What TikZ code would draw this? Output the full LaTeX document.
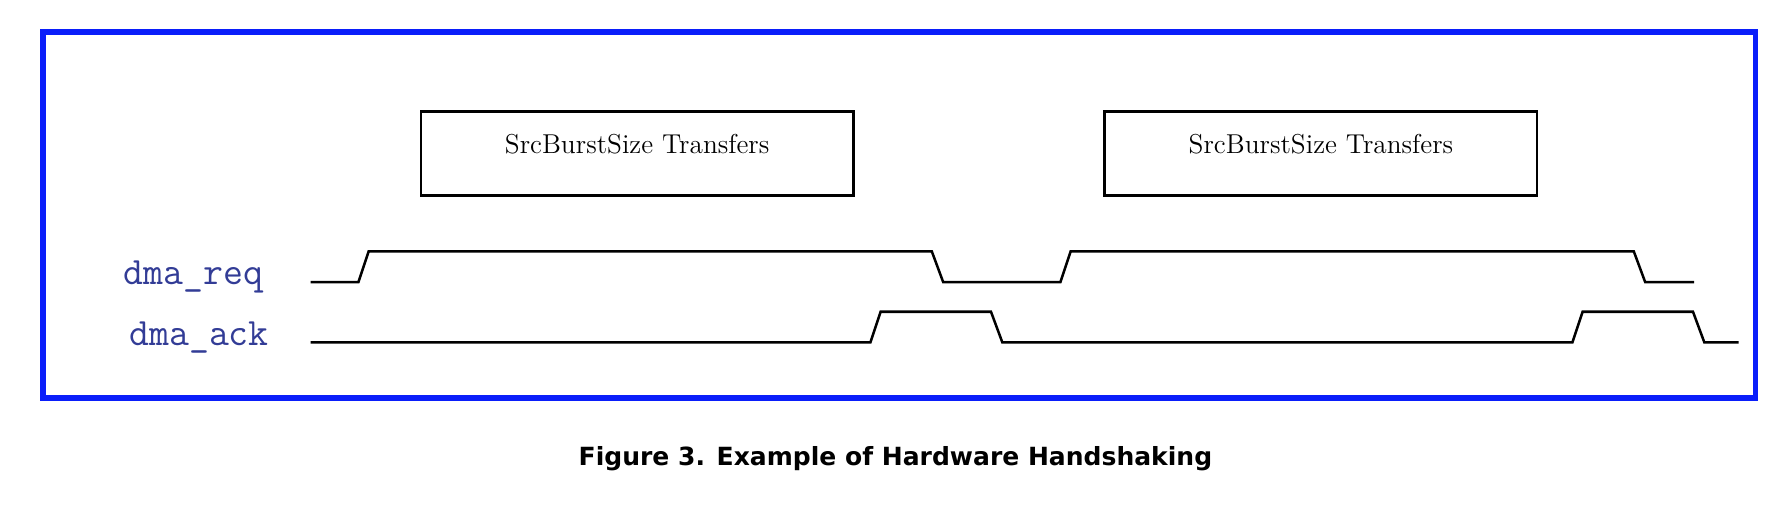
\documentclass[tikz,border=0pt]{standalone}
\usepackage{fontspec}
\newfontfamily\capfont{DejaVu Sans}
\definecolor{framebl}{RGB}{10,30,250}
\definecolor{sigbl}{RGB}{50,60,150}
\tikzset{every picture/.style={line width=0.9pt}}
\tikzset{burstbox/.style={draw,line width=1.2pt,minimum width=190pt,minimum height=37pt},
  siglabel/.style={text=sigbl,font=\ttfamily\fontsize{17}{17}\selectfont},
  wave/.style={line width=1.1pt}}
\begin{document}
\begin{tikzpicture}[x=0.5pt,y=0.5pt,yscale=-1,xscale=1]
\useasboundingbox (0,0) rectangle (1568,455);

%Frame
\draw [framebl,line width=2.5pt] (38,28) rectangle (1543,350);

%Burst boxes
\node [burstbox] (burstA) at (560,135) {};
\node [burstbox] (burstB) at (1161,135) {};
\node [font=\fontsize{12}{12}\selectfont] (burstAtxt) at (560,127) {SrcBurstSize Transfers};
\node [font=\fontsize{12}{12}\selectfont] (burstBtxt) at (1161,127) {SrcBurstSize Transfers};

%Signal labels
\node [siglabel] (reqlbl) at (170,243) {dma\_req};
\node [siglabel] (acklbl) at (175,297) {dma\_ack};

%dma_req waveform
\draw [wave] (273,248) -- (315,248) -- (324,221) -- (819,221) -- (829,248) -- (932,248)
  -- (941,221) -- (1436,221) -- (1446,248) -- (1489,248);
%dma_ack waveform
\draw [wave] (273,301) -- (765,301) -- (774,274) -- (871,274) -- (881,301) -- (1382,301)
  -- (1391,274) -- (1488,274) -- (1498,301) -- (1528,301);

% Caption
\node [font=\capfont\bfseries\fontsize{11}{11}\selectfont] (caption) at (787,403) {Figure 3. Example of Hardware Handshaking};
\end{tikzpicture}
\end{document}
